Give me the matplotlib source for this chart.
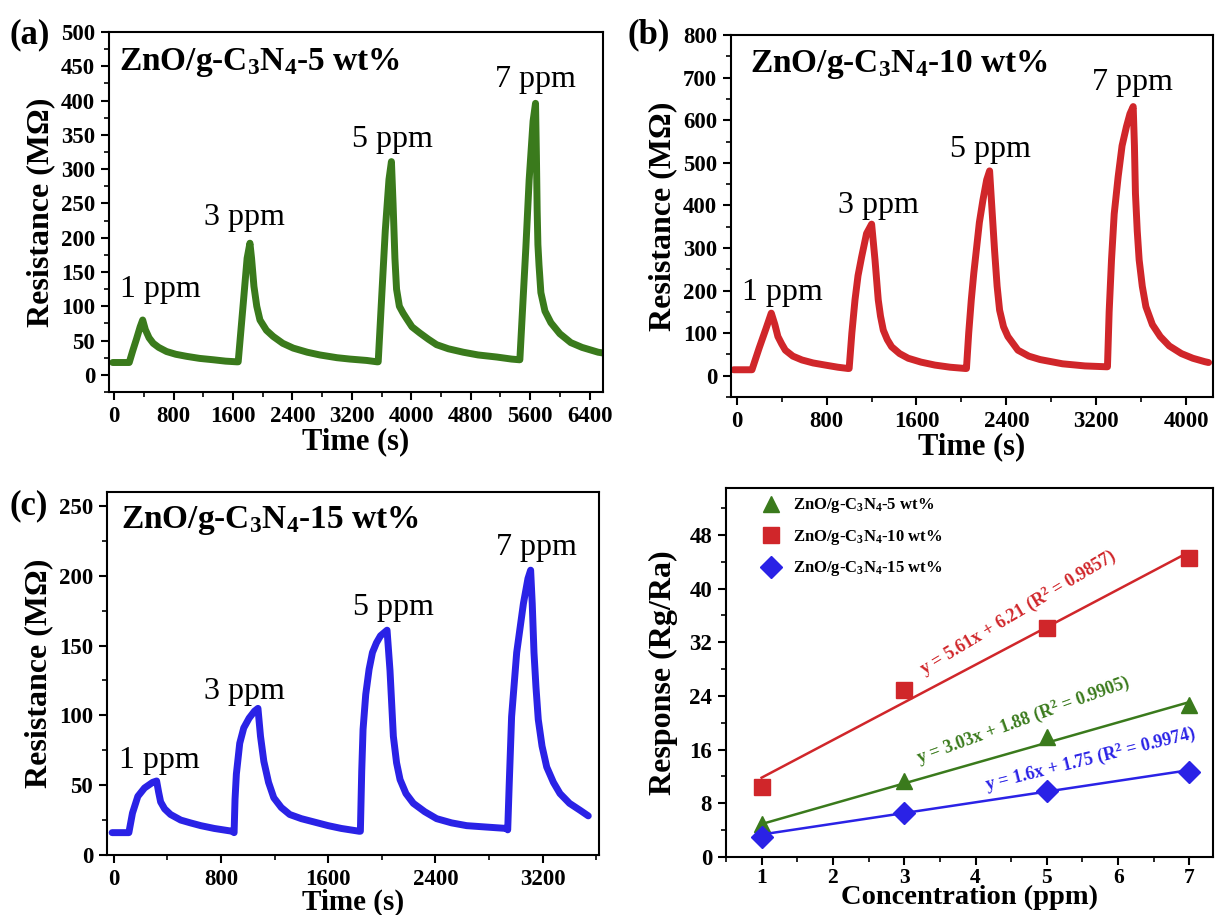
import matplotlib
matplotlib.use("Agg")
import matplotlib.pyplot as plt
import numpy as np
from matplotlib.ticker import MultipleLocator

plt.rcParams["font.family"] = ["Liberation Serif", "DejaVu Serif"]
plt.rcParams["mathtext.fontset"] = "custom"
plt.rcParams["mathtext.bf"] = "Liberation Serif:bold"
plt.rcParams["mathtext.rm"] = "Liberation Serif"
plt.rcParams["mathtext.default"] = "bf"

# - - - data - - -
# (a) ZnO/g-C3N4-5 wt%
time_a = [-20, 203, 250, 300, 350, 384, 420, 470, 526, 600, 706, 830, 975, 1150, 1334, 1500, 1649,
          1670, 1738, 1790, 1828, 1850, 1882, 1920, 1963, 2050, 2141, 2270, 2411, 2600, 2770, 3000,
          3174, 3400, 3540,
          3555, 3600, 3650, 3700, 3733, 3755, 3780, 3802, 3840, 3890, 3937, 4010, 4116, 4230, 4341,
          4500, 4700, 4900, 5150, 5350, 5455,
          5462, 5543, 5587, 5640, 5673, 5685, 5695, 5705, 5720, 5745, 5800, 5880, 6000, 6148, 6300,
          6516, 6575]
res_a = [18, 18, 35, 52, 70, 80, 66, 54, 46, 40, 34, 30, 27, 24, 22, 20, 19,
         19, 104, 170, 192, 170, 129, 100, 80, 65, 56, 46, 39, 33, 29, 25,
         23, 21, 19,
         19, 110, 210, 285, 311, 250, 170, 125, 100, 90, 82, 70, 61, 52, 44,
         38, 33, 29, 26, 23, 22,
         22, 186, 284, 370, 396, 320, 240, 190, 160, 120, 93, 76, 60, 47, 40,
         33, 32]

# (b) ZnO/g-C3N4-10 wt%
time_b = [-27, 136, 200, 260, 308, 340, 367, 400, 433, 500, 581, 680, 788, 900, 990,
          1001, 1025, 1053, 1080, 1112, 1156, 1201, 1231, 1260, 1280, 1305, 1340, 1379, 1450,
          1527, 1640, 1764, 1900, 2035,
          2045, 2065, 2088, 2110, 2133, 2160, 2192, 2225, 2251, 2270, 2295, 2318, 2340, 2375,
          2414, 2503, 2600, 2700, 2900, 3100, 3290,
          3300, 3315, 3336, 3360, 3395, 3430, 3469, 3500, 3529, 3540, 3549, 3565, 3582, 3610,
          3642, 3700, 3770, 3850, 3958, 4060, 4166, 4200]
res_b = [14, 14, 65, 110, 147, 120, 92, 75, 60, 46, 37, 30, 25, 20, 17,
         17, 100, 178, 235, 279, 334, 356, 272, 178, 140, 107, 85, 68, 52,
         41, 32, 25, 20, 17,
         17, 100, 178, 240, 295, 360, 413, 460, 481, 400, 295, 210, 154, 115,
         92, 60, 46, 38, 28, 23, 21,
         21, 150, 272, 380, 467, 540, 585, 615, 632, 540, 428, 340, 272, 210,
         162, 120, 92, 70, 52, 41, 33, 31]

# (c) ZnO/g-C3N4-15 wt%
time_c = [-12, 113, 140, 180, 230, 290, 320, 335, 350, 380, 424, 500, 572, 650, 750, 883,
          898, 905, 915, 940, 970, 1010, 1050, 1076, 1095, 1120, 1155, 1194, 1250, 1313, 1400,
          1520, 1600, 1698, 1831,
          1840, 1850, 1860, 1880, 1905, 1930, 1960, 1990, 2039, 2061, 2086, 2110, 2136, 2180,
          2235, 2320, 2409, 2520, 2633, 2780, 2931,
          2939, 2950, 2968, 3006, 3056, 3090, 3110, 3122, 3135, 3150, 3167, 3195, 3230, 3280,
          3329, 3400, 3479, 3540]
res_c = [16, 16, 30, 42, 48, 52, 53, 45, 38, 33, 29, 25, 23, 21, 19, 17,
         16, 40, 58, 80, 91, 98, 103, 105, 85, 67, 52, 41, 34, 29, 26,
         23, 21, 19, 17,
         17, 60, 90, 115, 133, 145, 152, 157, 161, 132, 85, 66, 54, 44,
         37, 31, 26, 23, 21, 20, 19,
         18, 50, 99, 145, 180, 198, 204, 180, 145, 120, 97, 78, 63, 52,
         44, 37, 32, 28]

ppm_labels = ["1 ppm", "3 ppm", "5 ppm", "7 ppm"]
label_x_a = [616, 1750, 3750, 5670]
label_y_a = [114, 218, 333, 420]
label_x_b = [410, 1260, 2260, 3520]
label_y_b = [178, 381, 514, 671]
label_x_c = [342, 972, 2083, 3150]
label_y_c = [62, 112, 172, 215]

# (d) response vs concentration
conc = [1, 3, 5, 7]
resp_5 = [4.9, 11.3, 17.9, 22.7]
resp_10 = [10.5, 24.9, 34.1, 44.6]
resp_15 = [3.0, 6.5, 9.9, 12.7]
fit_slope = [3.03, 5.61, 1.6]
fit_icpt = [1.88, 6.21, 1.75]
fit_text = ["y = 3.03x + 1.88 (R$^2$ = 0.9905)",
            "y = 5.61x + 6.21 (R$^2$ = 0.9857)",
            "y = 1.6x + 1.75 (R$^2$ = 0.9974)"]
series_names = ["ZnO/g-C$_3$N$_4$-5 wt%", "ZnO/g-C$_3$N$_4$-10 wt%", "ZnO/g-C$_3$N$_4$-15 wt%"]

GREEN = "#3a7a1c"
RED = "#d0262a"
BLUE = "#2a22e6"

fig = plt.figure(figsize=(12.16, 9.15), dpi=100)

ax_a = fig.add_axes([0.0896, 0.5716, 0.4062, 0.3934])
ax_b = fig.add_axes([0.6012, 0.5661, 0.3964, 0.3956])
ax_c = fig.add_axes([0.0880, 0.0656, 0.4046, 0.3967])
ax_d = fig.add_axes([0.5970, 0.0634, 0.4005, 0.4033])


def style_axis(ax, xmaj, ymaj):
    ax.xaxis.set_major_locator(MultipleLocator(xmaj))
    ax.xaxis.set_minor_locator(MultipleLocator(xmaj / 2))
    ax.yaxis.set_major_locator(MultipleLocator(ymaj))
    ax.yaxis.set_minor_locator(MultipleLocator(ymaj / 2))
    ax.tick_params(which="major", direction="out", length=6, width=1.5, labelsize=16.5, pad=4)
    ax.tick_params(which="minor", direction="out", length=3.5, width=1.2)
    for lab in ax.get_xticklabels() + ax.get_yticklabels():
        lab.set_fontweight("bold")
    for sp in ax.spines.values():
        sp.set_linewidth(1.5)


def resistance_panel(ax, t, r, color, xlim, ylim, xmaj, ymaj, title, lx, ly, tx, ty,
                     xpad=0, xsize=22):
    ax.plot(t, r, color=color, lw=5, solid_capstyle="round", solid_joinstyle="round")
    ax.set_xlim(*xlim)
    ax.set_ylim(*ylim)
    style_axis(ax, xmaj, ymaj)
    ax.set_xlabel("Time (s)", fontsize=xsize, fontweight="bold", labelpad=xpad)
    ax.set_ylabel("Resistance (M\u03a9)", fontsize=23, fontweight="bold", labelpad=4)
    ax.text(tx, ty, title, fontsize=24, fontweight="bold", ha="left", va="baseline")
    for name, x, y in zip(ppm_labels, lx, ly):
        ax.text(x, y, name, fontsize=23, ha="center", va="baseline")


resistance_panel(ax_a, time_a, res_a, GREEN, (-70, 6580), (-25, 500), 800, 50,
                 series_names[0], label_x_a, label_y_a, 70, 444)
resistance_panel(ax_b, time_b, res_b, RED, (-50, 4240), (-50, 800), 800, 100,
                 series_names[1], label_x_b, label_y_b, 122, 714)
resistance_panel(ax_c, time_c, res_c, BLUE, (-50, 3620), (0, 260), 800, 50,
                 series_names[2], label_x_c, label_y_c, 53, 234, xpad=-1, xsize=21)

fig.text(0.008, 0.962, "(a)", fontsize=25, fontweight="bold", va="center")
fig.text(0.516, 0.962, "(b)", fontsize=25, fontweight="bold", va="center")
fig.text(0.008, 0.447, "(c)", fontsize=25, fontweight="bold", va="center")

# (d)
colors_d = [GREEN, RED, BLUE]
markers_d = ["^", "s", "D"]
responses = [resp_5, resp_10, resp_15]
xfit = np.array([conc[0], conc[-1]])
for resp, col, mk, name, k, b in zip(responses, colors_d, markers_d, series_names, fit_slope, fit_icpt):
    ax_d.plot(xfit, k * xfit + b, color=col, lw=1.8)
    ax_d.plot(conc, resp, linestyle="none", marker=mk, color=col,
              markersize=12 if mk != "D" else 11, label=name)

text_pos_x = [3.2, 3.27, 4.15]
text_pos_y = [14.0, 27.2, 10.0]
text_rot = [20, 31, 14]
for s, col, x, y, rot in zip(fit_text, colors_d, text_pos_x, text_pos_y, text_rot):
    ax_d.text(x, y, s, color=col, fontsize=13, fontweight="bold", rotation=rot,
              rotation_mode="anchor", ha="left", va="baseline")

ax_d.set_xlim(0.5, 7.33)
ax_d.set_ylim(0, 55)
style_axis(ax_d, 1, 8)
ax_d.xaxis.set_minor_locator(MultipleLocator(0.5))
ax_d.yaxis.set_minor_locator(MultipleLocator(4))
ax_d.tick_params(axis="x", which="major", pad=2, labelsize=15.5)
ax_d.set_xlabel("Concentration (ppm)", fontsize=20.5, fontweight="bold", labelpad=-2)
ax_d.set_ylabel("Response (Rg/Ra)", fontsize=23, fontweight="bold", labelpad=8)
leg = ax_d.legend(loc="upper left", bbox_to_anchor=(0.053, 0.995), borderaxespad=0,
                  frameon=False, fontsize=12, handletextpad=0.6,
                  labelspacing=0.75, handlelength=1.5)
for txt in leg.get_texts():
    txt.set_fontweight("bold")

fig.savefig("out.png", dpi=100)
